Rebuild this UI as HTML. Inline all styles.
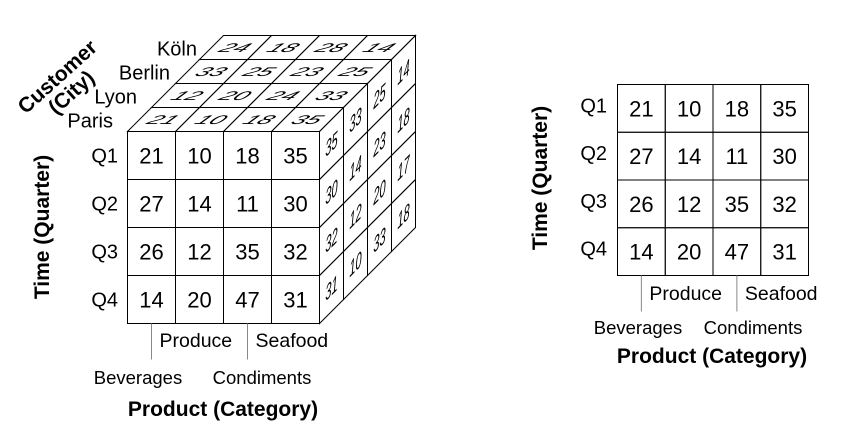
<!DOCTYPE html>
<html><head><meta charset="utf-8">
<style>
html,body{margin:0;padding:0;background:#fff;}
svg{display:block;font-family:"Liberation Sans",Arial,sans-serif;}
</style></head>
<body>
<svg id="chart" width="851" height="443" viewBox="0 0 851 443" xmlns="http://www.w3.org/2000/svg"></svg>
<script>
const quarters = ["Q1","Q2","Q3","Q4"];
const categories = ["Beverages","Produce","Condiments","Seafood"];
const cities = ["Paris","Lyon","Berlin","Köln"];
// front face (Paris): rows = quarters, cols = categories
const frontValues = [[21,10,18,35],[27,14,11,30],[26,12,35,32],[14,20,47,31]];
// top face (Q1): rows = cities, cols = categories
const topValues = [[21,10,18,35],[12,20,24,33],[33,25,23,25],[24,18,28,14]];
// side face (Seafood): cols = cities, rows = quarters
const sideValues = [[35,30,32,31],[33,14,12,10],[25,23,20,33],[14,18,17,18]];
// 2D slice
const sliceValues = [[21,10,18,35],[27,14,11,30],[26,12,35,32],[14,20,47,31]];

const NS="http://www.w3.org/2000/svg";
const svg=document.getElementById('chart');
function mk(tag,attrs,parent,text){
  const e=document.createElementNS(NS,tag);
  for(const k in attrs)e.setAttribute(k,attrs[k]);
  if(text!==undefined)e.textContent=text;
  (parent||svg).appendChild(e);return e;
}
const LS='stroke:#000;stroke-width:1;fill:none';
const NSS='stroke:#000;stroke-width:1;fill:none;vector-effect:non-scaling-stroke';

// ---------- CUBE ----------
const cx0=127.5, cy0=131.5, cs=48, d=24;
const cube=mk('g',{},svg);



for(let r=0;r<4;r++)for(let c=0;c<4;c++){
  const g=mk('g',{},cube);
  
  
  mk('rect',{x:cx0+c*cs,y:cy0+r*cs,width:cs,height:cs,style:LS},g);
  mk('text',{x:cx0+c*cs+cs/2,y:cy0+r*cs+cs/2+8,'text-anchor':'middle','font-size':22},g,frontValues[r][c]);
}
const topG=mk('g',{transform:`matrix(1,0,-0.5,0.5,${cx0},${cy0})`},cube);


for(let k=0;k<4;k++)for(let c=0;c<4;c++){
  const v0=-(k+1)*cs;
  mk('rect',{x:c*cs,y:v0,width:cs,height:cs,style:NSS},topG);
  const t=mk('text',{x:c*cs+cs/2,y:v0+cs/2+9,'text-anchor':'middle','font-size':25,'font-style':'italic'},topG,topValues[k][c]);
  
  
}
const sx0=cx0+4*cs;
const sideG=mk('g',{transform:`matrix(0.5,-0.5,0,1,${sx0},${cy0})`},cube);


for(let k=0;k<4;k++)for(let r=0;r<4;r++){
  mk('rect',{x:k*cs,y:r*cs,width:cs,height:cs,style:NSS},sideG);
  const t=mk('text',{x:k*cs+cs/2,y:r*cs+cs/2+8,'text-anchor':'middle','font-size':22,'font-style':'italic'},sideG,sideValues[k][r]);
  
  
}
quarters.forEach((q,i)=>{
  const t=mk('text',{x:118,y:cy0+i*cs+cs/2+7,'text-anchor':'end','font-size':20},svg,q);
  
  
});
const cityRight=[113,137,170,197];
cities.forEach((c,i)=>{
  const t=mk('text',{x:cityRight[i],y:cy0-4-i*d,'text-anchor':'end','font-size':20},svg,c);
  
  
});
function catLabels(x0,w,lineTop,yOdd,yEven,prefix,evenCenters){
  [0,2].forEach(c=>{
    const l=mk('line',{x1:x0+c*w+w/2,y1:lineTop,x2:x0+c*w+w/2,y2:lineTop+36,stroke:'#888','stroke-width':1});
    
    
  });
  categories.forEach((c,i)=>{
    const odd=i%2===1;
    const t=mk('text',{x:odd?x0+(i-1)*w+w/2+8:evenCenters[i/2],y:odd?yOdd:yEven,'text-anchor':odd?'start':'middle','font-size':odd?19.5:18.5},svg,c);
    
    
  });
}
catLabels(cx0,cs,cy0+4*cs,347,384,'cube',[138,262]);
let t;
t=mk('text',{x:223,y:416,'text-anchor':'middle','font-size':21,'font-weight':'bold'},svg,'Product (Category)');

t=mk('text',{x:0,y:0,'text-anchor':'middle','font-size':21,'font-weight':'bold',transform:'translate(49,227) rotate(-90)'},svg,'Time (Quarter)');

const cust=mk('text',{'text-anchor':'middle','font-size':21,'font-weight':'bold',transform:'translate(62,82) rotate(-42)'},svg);

mk('tspan',{x:0,y:0},cust,'Customer');
mk('tspan',{x:0,y:21},cust,'(City)');

// ---------- SLICE ----------
const px0=617.5, py0=84.5, ps=47.75;
const slice=mk('g',{},svg);


for(let r=0;r<4;r++)for(let c=0;c<4;c++){
  const g=mk('g',{},slice);
  
  
  mk('rect',{x:px0+c*ps,y:py0+r*ps,width:ps,height:ps,style:LS},g);
  mk('text',{x:px0+c*ps+ps/2,y:py0+r*ps+ps/2+8,'text-anchor':'middle','font-size':22},g,sliceValues[r][c]);
}
quarters.forEach((q,i)=>{
  const t=mk('text',{x:607,y:py0+i*ps+ps/2+4,'text-anchor':'end','font-size':20},svg,q);
  
  
});
catLabels(px0,ps,py0+4*ps,300,334,'slice',[638,753]);
t=mk('text',{x:712,y:363,'text-anchor':'middle','font-size':21,'font-weight':'bold'},svg,'Product (Category)');

t=mk('text',{x:0,y:0,'text-anchor':'middle','font-size':21,'font-weight':'bold',transform:'translate(547,178) rotate(-90)'},svg,'Time (Quarter)');

</script>
</body></html>
